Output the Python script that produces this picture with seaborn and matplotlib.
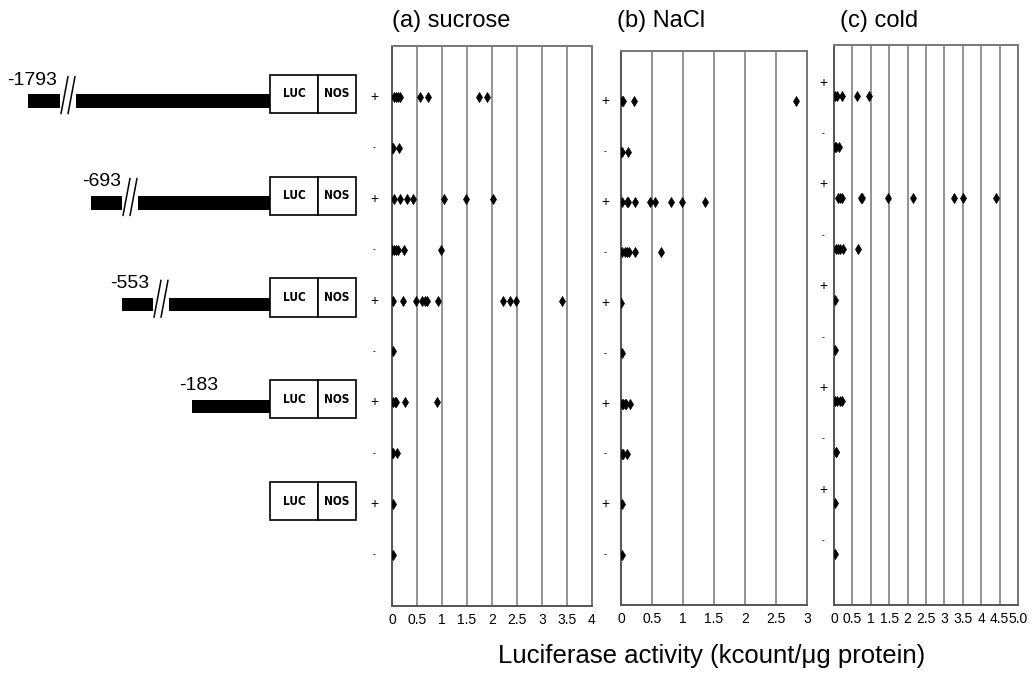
import numpy as np
import pandas as pd
import matplotlib
matplotlib.use("Agg")
import matplotlib.pyplot as plt
from matplotlib.patches import Rectangle
from matplotlib.transforms import blended_transform_factory
import seaborn as sns

# ---------------- data ----------------
constructs = ["-1793", "-693", "-553", "-183", "LUC only"]
treatment = ["+", "-"]

# activity values per row (row order: -1793 +, -1793 -, -693 +, -693 -, -553 +, -553 -, -183 +, -183 -, LUC +, LUC -)
sucrose = [
    [0.03, 0.08, 0.12, 0.15, 0.55, 0.72, 1.73, 1.90],
    [0.00, 0.02, 0.13],
    [0.03, 0.16, 0.29, 0.41, 1.03, 1.48, 2.01],
    [0.00, 0.03, 0.07, 0.11, 0.23, 0.97],
    [0.01, 0.22, 0.48, 0.60, 0.65, 0.70, 0.92, 2.21, 2.35, 2.47, 3.39],
    [0.01],
    [0.02, 0.05, 0.08, 0.25, 0.90],
    [0.00, 0.02, 0.09],
    [0.01],
    [0.01],
]
nacl = [
    [0.01, 0.03, 0.21, 2.83],
    [0.00, 0.02, 0.12],
    [0.02, 0.09, 0.12, 0.22, 0.46, 0.55, 0.81, 0.98, 1.36],
    [0.01, 0.06, 0.10, 0.13, 0.23, 0.64],
    [0.00],
    [0.01],
    [0.01, 0.04, 0.06, 0.08, 0.14],
    [0.01, 0.04, 0.10],
    [0.01],
    [0.01],
]
cold = [
    [0.04, 0.09, 0.21, 0.63, 0.96],
    [0.02, 0.06, 0.14],
    [0.10, 0.15, 0.21, 0.73, 0.77, 1.47, 2.16, 3.27, 3.51, 4.39],
    [0.05, 0.10, 0.15, 0.25, 0.66],
    [0.04],
    [0.03],
    [0.03, 0.08, 0.15, 0.23],
    [0.05, 0.06],
    [0.03],
    [0.03],
]

titles = ["(a) sucrose", "(b) NaCl", "(c) cold"]
ticks_a = [0, 0.5, 1, 1.5, 2, 2.5, 3, 3.5, 4]
ticklabels_a = ["0", "0.5", "1", "1.5", "2", "2.5", "3", "3.5", "4"]
ticks_b = [0, 0.5, 1, 1.5, 2, 2.5, 3]
ticklabels_b = ["0", "0.5", "1", "1.5", "2", "2.5", "3"]
ticks_c = [0, 0.5, 1, 1.5, 2, 2.5, 3, 3.5, 4, 4.5, 5]
ticklabels_c = ["0", "0.5", "1", "1.5", "2", "2.5", "3", "3.5", "4", "4.5", "5.0"]
xlabel = "Luciferase activity (kcount/\u03bcg protein)"


def long_form(values):
    rows = []
    for r, vals in enumerate(values):
        for v in vals:
            rows.append({"row": r, "activity": v})
    return pd.DataFrame(rows)


# ---------------- figure ----------------
sns.set_style("white")
plt.rcParams["font.family"] = ["Liberation Sans", "DejaVu Sans"]
plt.rcParams["text.color"] = "black"
plt.rcParams["xtick.color"] = "black"
plt.rcParams["xtick.labelcolor"] = "black"

W, H = 1034, 675
fig = plt.figure(figsize=(W / 100, H / 100), dpi=100)


def px_axes(left, top, right, bottom):
    return fig.add_axes([left / W, 1 - bottom / H, (right - left) / W, (bottom - top) / H])


panels = [
    dict(box=(392, 46, 592, 606), data=sucrose, xlim=(0, 4), ticks=ticks_a, labels=ticklabels_a,
         title=titles[0], title_x=392, sign_x=374, sign_dy=0.0),
    dict(box=(621, 51, 807, 605), data=nacl, xlim=(0, 3), ticks=ticks_b, labels=ticklabels_b,
         title=titles[1], title_x=617, sign_x=605, sign_dy=0.0),
    dict(box=(834, 45, 1018, 605), data=cold, xlim=(0, 5), ticks=ticks_c, labels=ticklabels_c,
         title=titles[2], title_x=840, sign_x=823, sign_dy=-0.26),
]

for p in panels:
    ax = px_axes(*p["box"])
    df = long_form(p["data"])
    for t in p["ticks"]:
        ax.axvline(t, color="#8a8a8a", lw=1.3, zorder=0)
    sns.scatterplot(data=df, x="activity", y="row", marker="d", s=26, color="black",
                    edgecolor="black", linewidth=0.5, ax=ax, zorder=3, legend=False)
    ax.set_xlim(*p["xlim"])
    ax.set_ylim(10, -1)
    ax.set_yticks([])
    ax.set_xticks(p["ticks"])
    ax.set_xticklabels(p["labels"], fontsize=10)
    ax.tick_params(axis="x", length=0, pad=5)
    ax.set_xlabel("")
    ax.set_ylabel("")
    for side, sp in ax.spines.items():
        sp.set_visible(True)
        sp.set_color("#777777")
        sp.set_linewidth(1.4)
    ax.spines["left"].set_color("#555555")
    ax.spines["bottom"].set_color("#555555")
    fig.text(p["title_x"] / W, 1 - 21 / H, p["title"], fontsize=17, ha="left", va="center")
    tr = blended_transform_factory(fig.transFigure, ax.transData)
    for r in range(10):
        s = treatment[r % 2]
        if s == "+":
            ax.text(p["sign_x"] / W, r + p["sign_dy"], "+", transform=tr, ha="center",
                    va="center", fontsize=10)
        else:
            ax.text(p["sign_x"] / W, r + p["sign_dy"], "-", transform=tr, ha="center",
                    va="center", fontsize=6, fontweight="bold")

fig.text(712 / W, 1 - 656 / H, xlabel, fontsize=18.5, ha="center", va="center")

# ---------------- construct diagrams ----------------
dax = px_axes(0, 46, 370, 606)
dax.set_xlim(0, 370)
dax.set_ylim(10, -1)
dax.axis("off")

bar_start = [28, 91, 122, 192, None]
break_at = [60, 122, 153, None, None]
label_x = [7, 82, 110, 179, None]
luc_l, luc_r, nos_r = 270, 318, 356

for i, name in enumerate(constructs):
    row = 2 * i
    bc = row + 0.08
    bh = 0.27
    if bar_start[i] is not None:
        if break_at[i] is not None:
            g = break_at[i]
            dax.add_patch(Rectangle((bar_start[i], bc - bh / 2), g - bar_start[i], bh,
                                    facecolor="black", edgecolor="none"))
            dax.add_patch(Rectangle((g + 16, bc - bh / 2), luc_l - g - 16, bh,
                                    facecolor="black", edgecolor="none"))
            for dx in (0, 7):
                dax.plot([g + 1 + dx, g + 8 + dx], [bc + 0.25, bc - 0.48], color="black", lw=1.1)
        else:
            dax.add_patch(Rectangle((bar_start[i], bc - bh / 2), luc_l - bar_start[i], bh,
                                    facecolor="black", edgecolor="none"))
        dax.text(label_x[i], row - 0.33, name, fontsize=14, ha="left", va="center")
    bcy = row - 0.06
    hh = 0.75
    dax.add_patch(Rectangle((luc_l, bcy - hh / 2), luc_r - luc_l, hh, facecolor="white",
                            edgecolor="black", lw=1.2))
    dax.add_patch(Rectangle((luc_r, bcy - hh / 2), nos_r - luc_r, hh, facecolor="white",
                            edgecolor="black", lw=1.2))
    dax.text((luc_l + luc_r) / 2, bcy, "LUC", fontsize=8.5, ha="center", va="center",
             family=["DejaVu Sans"], fontstretch="condensed", fontweight="bold")
    dax.text((luc_r + nos_r) / 2, bcy, "NOS", fontsize=8.5, ha="center", va="center",
             family=["DejaVu Sans"], fontstretch="condensed", fontweight="bold")

fig.savefig("out.png", dpi=100)
